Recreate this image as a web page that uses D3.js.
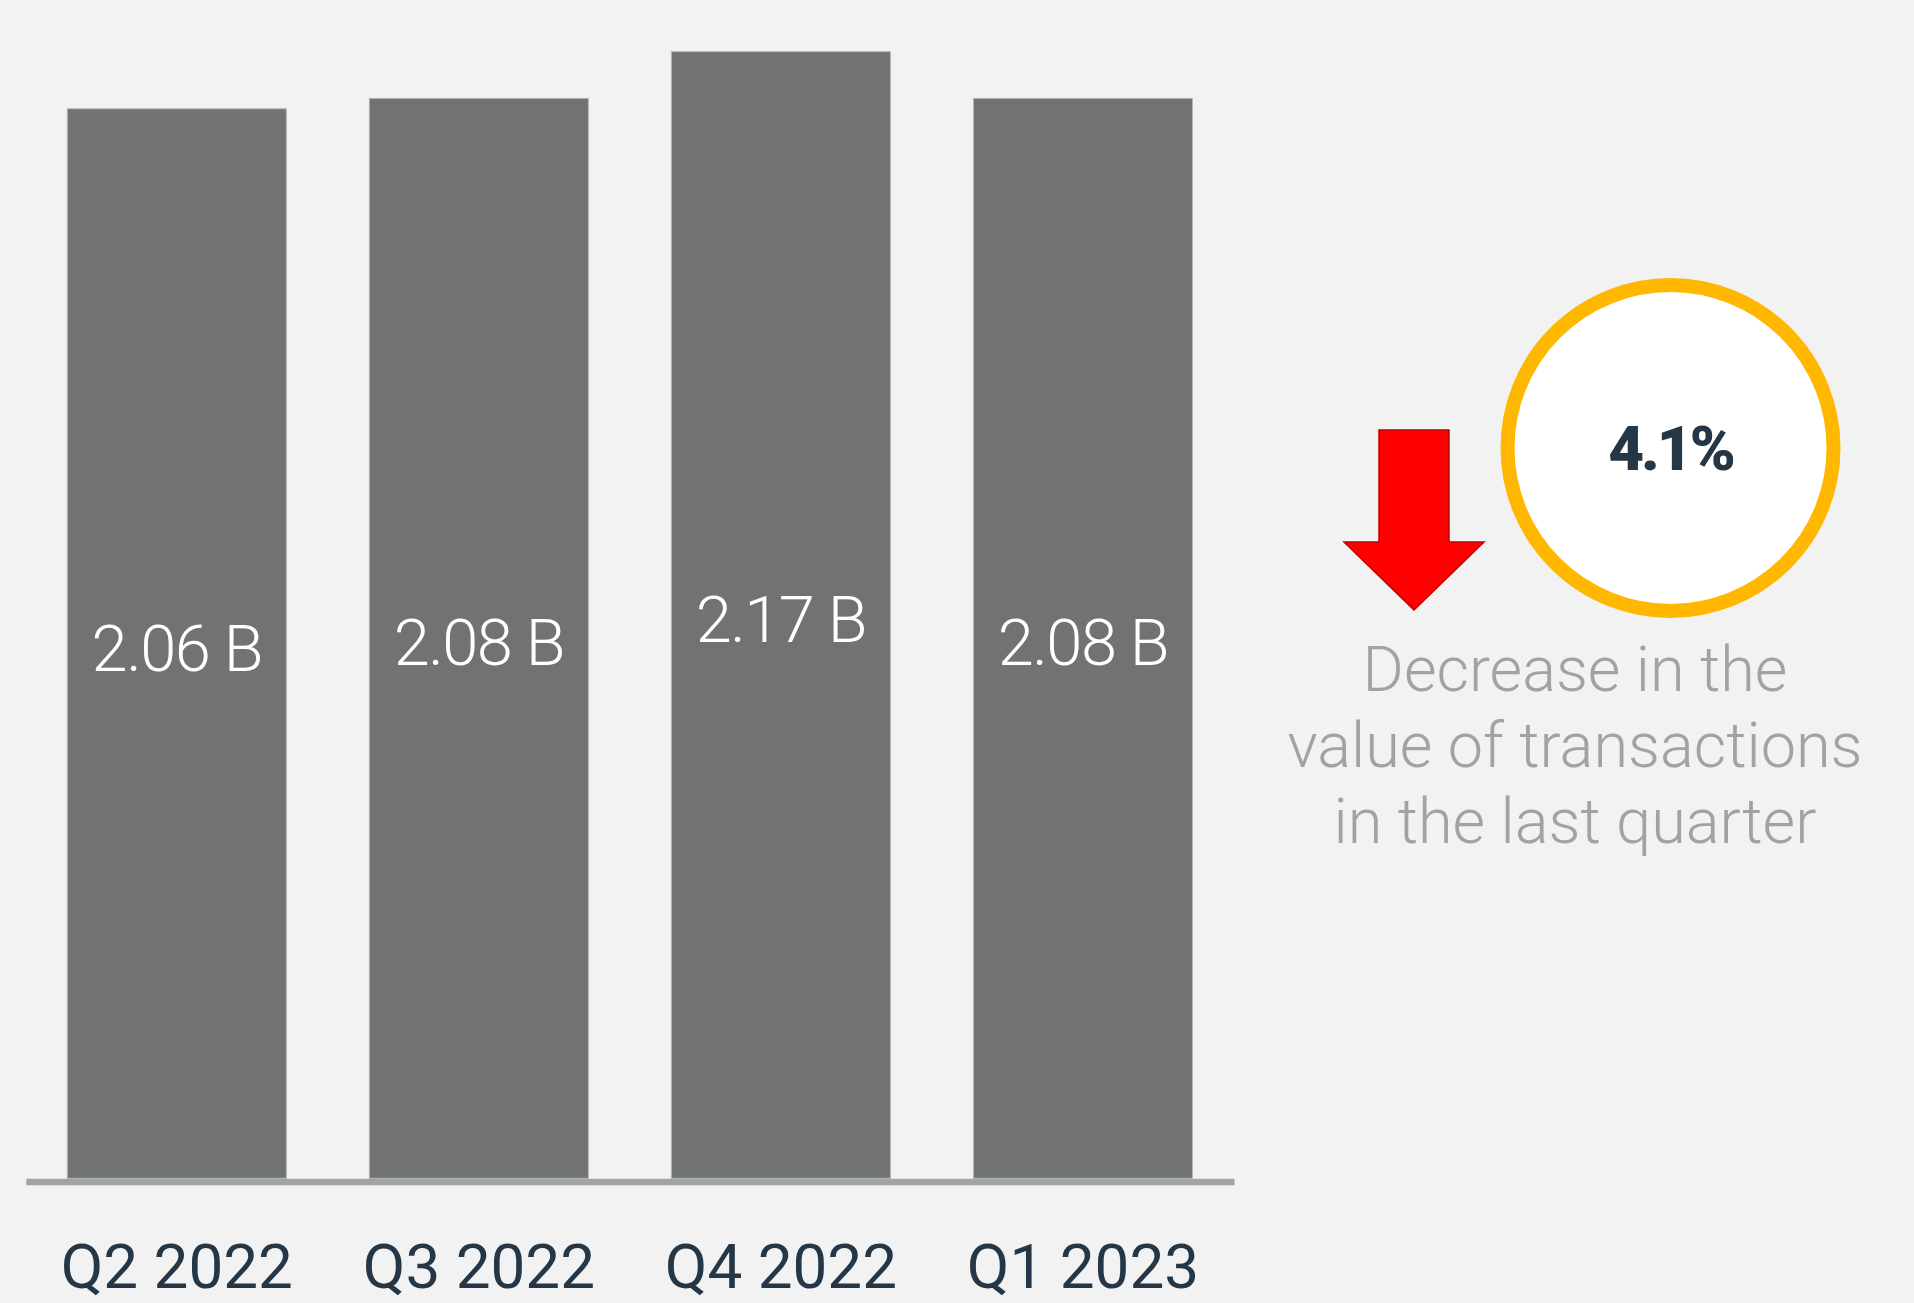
<!DOCTYPE html>
<html>
<head>
<meta charset="utf-8">
<script src="https://cdn.jsdelivr.net/npm/d3@7"></script>
<style>
  html, body { margin: 0; padding: 0; background: #f2f2f2; }
  svg { display: block; }
</style>
</head>
<body>
<div id="chart"></div>
<script>
var quarters = ["Q2 2022", "Q3 2022", "Q4 2022", "Q1 2023"];
var values = [2.06, 2.08, 2.17, 2.08]; // billions
var changeText = "4.1%";
var noteLines = ["Decrease in the", "value of transactions", "in the last quarter"];

var W = 1914, H = 1303;
var baseY = 1178.3, topY = 51.7;

var svg = d3.select("#chart").append("svg").attr("width", W).attr("height", H);
svg.append("rect").attr("width", W).attr("height", H).attr("fill", "#f2f2f2");

var x = d3.scaleBand().domain(quarters).range([25.8, 1234])
    .paddingInner(0.275).paddingOuter(0.1375);
var y = d3.scaleLinear().domain([0, d3.max(values)]).range([baseY, topY]);
var fmt = d3.format(".2f");

// bars
svg.selectAll("rect.bar").data(values).enter().append("rect")
    .attr("class", "bar")
    .attr("x", function(d, i) { return x(quarters[i]); })
    .attr("y", function(d) { return y(d); })
    .attr("width", x.bandwidth())
    .attr("height", function(d) { return baseY - y(d); })
    .attr("fill", "#717371")
    .attr("stroke", "#b4b6b5").attr("stroke-width", 1);

// value labels, in the middle of each bar
svg.selectAll("text.val").data(values).enter().append("text")
    .attr("class", "val")
    .attr("x", function(d, i) { return x(quarters[i]) + x.bandwidth() / 2; })
    .attr("y", function(d) { return (y(d) + baseY) / 2 + 27; })
    .attr("text-anchor", "middle")
    .attr("fill", "#ffffff")
    .style("font-family", "Roboto, sans-serif").style("font-weight", 300)
    .style("font-size", "65px").style("letter-spacing", "-1.5px")
    .text(function(d) { return fmt(d) + " B"; });

// axis
var axis = svg.append("g").attr("transform", "translate(0," + (baseY + 3.2) + ")")
    .call(d3.axisBottom(x).tickSize(0).tickSizeOuter(0));
axis.select(".domain").attr("stroke", "#a0a4a3").attr("stroke-width", 6.4);
axis.selectAll("text")
    .attr("y", 1288 - baseY - 3.2).attr("dy", null)
    .attr("fill", "#253746")
    .style("font-family", "Roboto, sans-serif").style("font-weight", 400)
    .style("font-size", "62px");

// red down arrow
var arrow = [[1379, 430], [1449, 430], [1449, 542], [1484, 542], [1414, 610],
             [1344, 542], [1379, 542]];
svg.append("path").attr("d", d3.line()(arrow) + "Z")
    .attr("fill", "#ff0000").attr("stroke", "#c00000").attr("stroke-width", 1.5);

// circle badge
svg.append("circle").attr("cx", 1670.5).attr("cy", 448).attr("r", 163)
    .attr("fill", "#ffffff").attr("stroke", "#ffb700").attr("stroke-width", 14);
svg.append("text").attr("x", 1670.5).attr("y", 470)
    .attr("text-anchor", "middle").attr("fill", "#253746")
    .style("font-family", "Roboto, sans-serif").style("font-weight", 900)
    .style("font-size", "62px").style("letter-spacing", "-3px")
    .text(changeText);

// note text
svg.selectAll("text.note").data(noteLines).enter().append("text")
    .attr("class", "note")
    .attr("x", 1575).attr("y", function(d, i) { return 691 + i * 76; })
    .attr("text-anchor", "middle").attr("fill", "#9fa3a3")
    .style("font-family", "Roboto, sans-serif").style("font-weight", 300)
    .style("font-size", "63px")
    .text(function(d) { return d; });
</script>
</body>
</html>
